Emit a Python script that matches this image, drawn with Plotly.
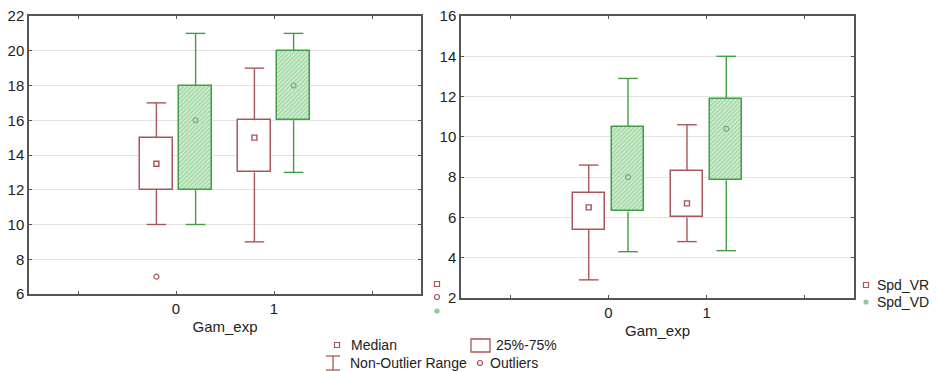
import plotly.graph_objects as go

# ---------------- data ----------------
categories = [0, 1]
tick_vals = [-1, 0, 1, 2]
tick_text = ["", "0", "1", ""]

# Left panel (y 6..22)
left_vr_low = [10, 9]
left_vr_q1 = [12, 13]
left_vr_med = [13.5, 15]
left_vr_q3 = [15, 16]
left_vr_high = [17, 19]
left_vr_outlier_x = [0]
left_vr_outlier_y = [7]

left_vd_low = [10, 13]
left_vd_q1 = [12, 16]
left_vd_med = [16, 18]
left_vd_q3 = [18, 20]
left_vd_high = [21, 21]

# Right panel (y 2..16)
right_vr_low = [2.9, 4.8]
right_vr_q1 = [5.4, 6.0]
right_vr_med = [6.5, 6.7]
right_vr_q3 = [7.2, 8.3]
right_vr_high = [8.6, 10.6]

right_vd_low = [4.3, 4.35]
right_vd_q1 = [6.3, 7.85]
right_vd_med = [8.0, 10.4]
right_vd_q3 = [10.5, 11.9]
right_vd_high = [12.9, 14.0]

series_names = ["Spd_VR", "Spd_VD"]
legend_labels = ["Median", "25%-75%", "Non-Outlier Range", "Outliers"]

# ---------------- style ----------------
RED = "#a9565b"
GREEN = "#3f9f45"
GREEN_FILL = "#d2efd2"
GREEN_HATCH = "#5fb463"
AXIS = "#555555"
GRID = "#e3e3e3"
TXT = "#222222"
FONT = "Liberation Sans, Arial, sans-serif"

OFFSET = 0.2
BOX_W = 0.33
CAP_W = 0.2

fig = go.Figure()


def whisker_path(xs, low, q1, q3, high):
    px, py = [], []
    for x, lo, a, b, hi in zip(xs, low, q1, q3, high):
        px += [x, x, None, x - CAP_W / 2, x + CAP_W / 2, None,
               x, x, None, x - CAP_W / 2, x + CAP_W / 2, None]
        py += [b, hi, None, hi, hi, None,
               a, lo, None, lo, lo, None]
    return px, py


def add_panel(xa, ya, vr, vd, outliers=None):
    vr_low, vr_q1, vr_med, vr_q3, vr_high = vr
    vd_low, vd_q1, vd_med, vd_q3, vd_high = vd
    xs_vr = [c - OFFSET for c in categories]
    xs_vd = [c + OFFSET for c in categories]
    # boxes
    fig.add_trace(go.Bar(
        x=xs_vr, y=[b - a for a, b in zip(vr_q1, vr_q3)], base=vr_q1,
        width=BOX_W, marker=dict(color="white", line=dict(color=RED, width=1.5)),
        xaxis=xa, yaxis=ya, showlegend=False, hoverinfo="skip"))
    fig.add_trace(go.Bar(
        x=xs_vd, y=[b - a for a, b in zip(vd_q1, vd_q3)], base=vd_q1,
        width=BOX_W,
        marker=dict(color=GREEN_FILL, line=dict(color=GREEN, width=1.5),
                    pattern=dict(shape="/", fgcolor=GREEN_HATCH, bgcolor=GREEN_FILL,
                                 size=3, solidity=0.4)),
        xaxis=xa, yaxis=ya, showlegend=False, hoverinfo="skip"))
    # whiskers
    px, py = whisker_path(xs_vr, vr_low, vr_q1, vr_q3, vr_high)
    fig.add_trace(go.Scatter(x=px, y=py, mode="lines", line=dict(color=RED, width=1.4),
                             xaxis=xa, yaxis=ya, showlegend=False, hoverinfo="skip"))
    px, py = whisker_path(xs_vd, vd_low, vd_q1, vd_q3, vd_high)
    fig.add_trace(go.Scatter(x=px, y=py, mode="lines", line=dict(color=GREEN, width=1.4),
                             xaxis=xa, yaxis=ya, showlegend=False, hoverinfo="skip"))
    # medians
    fig.add_trace(go.Scatter(x=xs_vr, y=vr_med, mode="markers",
                             marker=dict(symbol="square-open", size=5, color=RED,
                                         line=dict(width=1.4)),
                             xaxis=xa, yaxis=ya, showlegend=False))
    fig.add_trace(go.Scatter(x=xs_vd, y=vd_med, mode="markers",
                             marker=dict(symbol="circle-open", size=5, color="#5f9a5f",
                                         line=dict(width=1)),
                             xaxis=xa, yaxis=ya, showlegend=False))
    if outliers:
        ox, oy = outliers
        fig.add_trace(go.Scatter(x=[c - OFFSET for c in ox], y=oy, mode="markers",
                                 marker=dict(symbol="circle-open", size=5, color=RED,
                                             line=dict(width=1.2)),
                                 xaxis=xa, yaxis=ya, showlegend=False))


add_panel("x", "y",
          (left_vr_low, left_vr_q1, left_vr_med, left_vr_q3, left_vr_high),
          (left_vd_low, left_vd_q1, left_vd_med, left_vd_q3, left_vd_high),
          (left_vr_outlier_x, left_vr_outlier_y))
add_panel("x2", "y2",
          (right_vr_low, right_vr_q1, right_vr_med, right_vr_q3, right_vr_high),
          (right_vd_low, right_vd_q1, right_vd_med, right_vd_q3, right_vd_high))

W, H = 938, 371


def px_x(v):
    return v / W


def px_y(v):
    return 1 - v / H


xaxis_common = dict(range=[-1.5, 2.5], tickvals=tick_vals, ticktext=tick_text,
                    ticks="inside", ticklen=3, tickcolor=AXIS, mirror="allticks",
                    showline=True, linecolor=AXIS, linewidth=1.5, showgrid=False,
                    zeroline=False, tickfont=dict(family=FONT, size=15, color=TXT),
                    title=dict(text="Gam_exp", font=dict(family=FONT, size=15, color=TXT),
                               standoff=6))
yaxis_common = dict(ticks="inside", ticklen=3, tickcolor=AXIS, mirror="allticks",
                    showline=True, linecolor=AXIS, linewidth=1.5, showgrid=True,
                    gridcolor=GRID, gridwidth=1, zeroline=False,
                    tickfont=dict(family=FONT, size=15, color=TXT))

fig.update_layout(
    width=W, height=H, margin=dict(l=0, r=0, t=0, b=0, autoexpand=False),
    paper_bgcolor="white", plot_bgcolor="white",
    barmode="overlay", bargap=0, showlegend=False,
    font=dict(family=FONT, color=TXT),
    xaxis=dict(domain=[px_x(29), px_x(421)], anchor="y", **xaxis_common),
    yaxis=dict(domain=[px_y(294), px_y(16)], anchor="x", range=[6, 22], dtick=2,
               **yaxis_common),
    xaxis2=dict(domain=[px_x(461), px_x(854)], anchor="y2", **xaxis_common),
    yaxis2=dict(domain=[px_y(298), px_y(16)], anchor="x2", range=[2, 16], dtick=2,
                **yaxis_common),
)

# ---------------- legends (decoration) ----------------
shapes = []
annotations = []


def sq(cx, cy, s, color, fill="rgba(0,0,0,0)"):
    shapes.append(dict(type="rect", xref="paper", yref="paper",
                       x0=px_x(cx - s / 2), x1=px_x(cx + s / 2),
                       y0=px_y(cy + s / 2), y1=px_y(cy - s / 2),
                       line=dict(color=color, width=1.2), fillcolor=fill))


def circ(cx, cy, s, color, fill="rgba(0,0,0,0)"):
    shapes.append(dict(type="circle", xref="paper", yref="paper",
                       x0=px_x(cx - s / 2), x1=px_x(cx + s / 2),
                       y0=px_y(cy + s / 2), y1=px_y(cy - s / 2),
                       line=dict(color=color, width=1.2), fillcolor=fill))


def label(x, y, text, size=14):
    annotations.append(dict(xref="paper", yref="paper", x=px_x(x), y=px_y(y),
                            xanchor="left", yanchor="middle", showarrow=False,
                            text=text, font=dict(family=FONT, size=size, color=TXT)))


# small markers between panels
sq(437, 284, 5, RED)
circ(437, 297, 5, RED)
circ(437, 311, 4, "#8fc99a", "#8fc99a")

# right legend: series names
sq(866, 285, 5, RED)
label(875, 285, series_names[0])
circ(866, 302, 4, "#8fc99a", "#8fc99a")
label(875, 302, series_names[1])

# bottom legend
sq(337, 345, 5, RED)
label(349, 345, legend_labels[0])
shapes.append(dict(type="rect", xref="paper", yref="paper",
                   x0=px_x(471), x1=px_x(490), y0=px_y(352), y1=px_y(339),
                   line=dict(color=RED, width=1.3), fillcolor="white"))
label(494, 345, legend_labels[1])
# whisker symbol
for seg in [((326, 356), (340, 356)), ((333, 356), (333, 370)), ((326, 370), (340, 370))]:
    (xa0, ya0), (xa1, ya1) = seg
    shapes.append(dict(type="line", xref="paper", yref="paper",
                       x0=px_x(xa0), x1=px_x(xa1), y0=px_y(ya0), y1=px_y(ya1),
                       line=dict(color=RED, width=1.3)))
label(348, 363, legend_labels[2])
circ(480, 363, 5, RED)
label(488, 363, legend_labels[3])

fig.update_layout(shapes=shapes, annotations=annotations)

fig.write_html("out.html", config={"displayModeBar": False},
               post_script="document.body.style.margin='0';document.body.style.overflow='hidden';")
